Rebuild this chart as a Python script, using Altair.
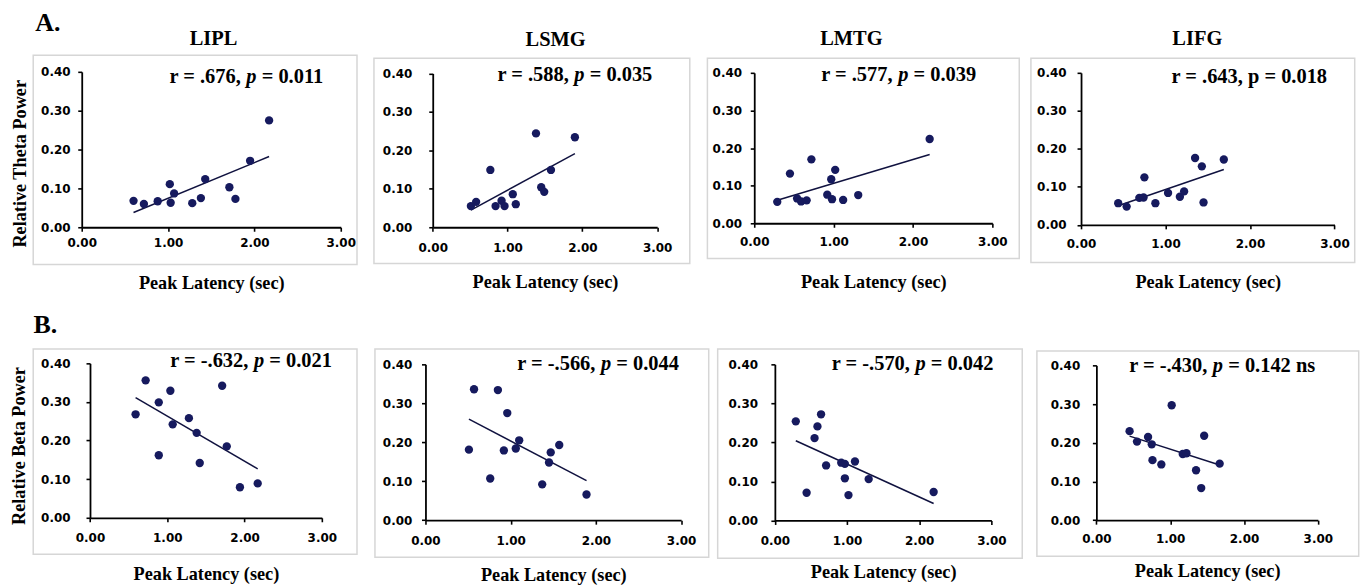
import altair as alt
import pandas as pd

# ---------------- data ----------------
region_titles = ["LIPL", "LSMG", "LMTG", "LIFG"]

# Row A: relative theta power vs peak latency
lipl_theta_lat = [0.60, 0.72, 0.88, 1.02, 1.03, 1.07, 1.28, 1.38, 1.43, 1.71, 1.78, 1.95, 2.17]
lipl_theta_pow = [0.068, 0.060, 0.067, 0.111, 0.063, 0.087, 0.062, 0.075, 0.124, 0.103, 0.073, 0.171, 0.275]
lsmg_theta_lat = [0.51, 0.58, 0.77, 0.84, 0.92, 0.96, 1.07, 1.11, 1.38, 1.45, 1.49, 1.58, 1.90]
lsmg_theta_pow = [0.055, 0.066, 0.149, 0.055, 0.069, 0.055, 0.086, 0.060, 0.244, 0.104, 0.092, 0.149, 0.234]
lmtg_theta_lat = [0.29, 0.45, 0.54, 0.59, 0.66, 0.72, 0.92, 0.97, 0.98, 1.02, 1.12, 1.31, 2.21]
lmtg_theta_pow = [0.057, 0.132, 0.066, 0.058, 0.061, 0.170, 0.076, 0.117, 0.064, 0.142, 0.062, 0.075, 0.224]
lifg_theta_lat = [0.44, 0.54, 0.69, 0.74, 0.75, 0.88, 1.03, 1.17, 1.22, 1.35, 1.43, 1.45, 1.69]
lifg_theta_pow = [0.057, 0.048, 0.071, 0.072, 0.125, 0.057, 0.084, 0.074, 0.088, 0.176, 0.154, 0.059, 0.172]

# Row B: relative beta power vs peak latency
lipl_beta_lat = [0.59, 0.72, 0.89, 0.89, 1.04, 1.07, 1.28, 1.38, 1.42, 1.71, 1.77, 1.94, 2.17]
lipl_beta_pow = [0.268, 0.356, 0.299, 0.162, 0.329, 0.242, 0.258, 0.220, 0.142, 0.342, 0.185, 0.079, 0.089]
lsmg_beta_lat = [0.51, 0.57, 0.76, 0.85, 0.92, 0.96, 1.06, 1.10, 1.37, 1.45, 1.47, 1.57, 1.89]
lsmg_beta_pow = [0.181, 0.336, 0.107, 0.334, 0.179, 0.275, 0.184, 0.205, 0.092, 0.148, 0.174, 0.193, 0.066]
lmtg_beta_lat = [0.29, 0.44, 0.55, 0.59, 0.64, 0.71, 0.92, 0.97, 0.97, 1.02, 1.11, 1.30, 2.20]
lmtg_beta_pow = [0.254, 0.071, 0.211, 0.241, 0.272, 0.141, 0.148, 0.145, 0.108, 0.065, 0.151, 0.106, 0.073]
lifg_beta_lat = [0.45, 0.55, 0.70, 0.75, 0.76, 0.88, 1.02, 1.17, 1.22, 1.35, 1.42, 1.46, 1.67]
lifg_beta_pow = [0.230, 0.203, 0.215, 0.196, 0.155, 0.144, 0.297, 0.171, 0.173, 0.129, 0.083, 0.218, 0.146]

# annotation texts: (before p, p, after p, p italic?)
stats_theta = [("r = .676,", "p", "= 0.011", True),
               ("r = .588,", "p", "= 0.035", True),
               ("r = .577,", "p", "= 0.039", True),
               ("r = .643, p = 0.018", "", "", False)]
stats_beta = [("r = -.632,", "p", "= 0.021", True),
              ("r = -.566,", "p", "= 0.044", True),
              ("r = -.570,", "p", "= 0.042", True),
              ("r = -.430,", "p", "= 0.142 ns", True)]

x_ticks = [0, 1, 2, 3]
y_ticks = [0, 0.1, 0.2, 0.3, 0.4]
x_title = "Peak Latency (sec)"
y_title_theta = "Relative Theta Power"
y_title_beta = "Relative Beta  Power"

# ---------------- styling ----------------
NAVY = "#161a5e"
LINE = "#10123f"
BOX = "#d6d6d6"
SERIF = "Liberation Serif"
SANS = "DejaVu Sans"
ANN = 20.5
TITLE = 18.3
ONE = pd.DataFrame({"k": [0]})

# Times-Bold advance widths (em) for positioning mixed-style annotation pieces
W_EM = {" ": 0.25, "r": 0.444, "=": 0.570, ".": 0.25, ",": 0.25, "-": 0.333,
        "p": 0.556, "n": 0.556, "s": 0.389}


def tw(s, size):
    return sum(W_EM.get(c, 0.5) for c in s) * size


# ---------------- layout (page pixels) ----------------
COLS = [81.7, 426.7, 756.0, 1083.3]
COLW = [253.0, 237.3, 235.3, 255.0]
ROWS = [70.7, 363.3]
ROWH = [156.0, 157.7]
SPACE_COL = 92
SPACE_ROW = 136.6

LAY_A = [
    dict(px=(81.7, 341.7), py=(70.7, 226.7), box=(33, 358, 54, 264), ann=(247.5, 81.7),
         title=(214, 43.3), xt=288.3, ylp=7.7, xlp=6.5),
    dict(px=(434, 659.3), py=(72.3, 226.7), box=(375, 692, 57, 263), ann=(576.7, 80),
         title=(557.3, 44.3), xt=287.3, ylp=17, xlp=11),
    dict(px=(756, 995), py=(71.7, 222.7), box=(709, 1022, 57, 258), ann=(901, 80),
         title=(853.5, 44), xt=286.7, ylp=8.7, xlp=9.3),
    dict(px=(1083.3, 1337.7), py=(71.7, 224.3), box=(1033, 1358, 57, 262), ann=(1252.2, 81.7),
         title=(1200, 44), xt=287.3, ylp=11, xlp=9.4),
]
LAY_B = [
    dict(px=(90, 322.7), py=(363.3, 518.3), box=(33, 358, 349, 555), ann=(251.7, 366.7),
         xt=580, ylp=16, xlp=10.4),
    dict(px=(426.7, 683.3), py=(364.3, 520.7), box=(376, 711, 349, 558), ann=(600, 370),
         xt=581, ylp=9.7, xlp=11.3),
    dict(px=(776.7, 994), py=(364.3, 521), box=(719.3, 1025, 349, 559), ann=(915, 370),
         xt=578.5, ylp=13.4, xlp=11),
    dict(px=(1098.7, 1321), py=(365.3, 520.7), box=(1039, 1362, 351, 557), ann=(1225, 371.7),
         xt=577, ylp=12.7, xlp=9.7),
]
YTITLE_A = (20, 162.5)
YTITLE_B = (19, 445.8)
LETTER_A = (35, 30)
LETTER_B = (33.3, 333.3)


def text_layer(s, x, y, size, italic=False, align="left"):
    props = dict(text=s, align=align, baseline="alphabetic", font=SERIF,
                 fontWeight="bold", fontSize=size, color="black")
    if italic:
        props["fontStyle"] = "italic"
    return alt.Chart(ONE).mark_text(**props).encode(x=alt.value(x), y=alt.value(y))


def panel(lat, pw_, L, r, c, stat, ytitle=None, ypos=None, ptitle=None, letter=None, anchor=False):
    cx, cy, W, H = COLS[c], ROWS[r], COLW[c], ROWH[r]
    xl = L["px"][0] - cx
    pw = L["px"][1] - L["px"][0]
    yt = L["py"][0] - cy
    yb = L["py"][1] - cy
    xoff = -(H - yb)
    yoff = -xl

    df = pd.DataFrame({"lat": lat, "pow": pw_})
    xsc = alt.Scale(domain=[0, 3], range=[xl, xl + pw], nice=False, zero=False)
    ysc = alt.Scale(domain=[0, 0.4], range=[yb, yt], nice=False, zero=False)
    xax = alt.Axis(values=x_ticks, format=".2f", offset=xoff, labelPadding=L["xlp"],
                   titleY=L["xt"] - L["py"][1], titleBaseline="alphabetic", labelFlush=False,
                   labelOverlap=False)
    ykw = dict(values=y_ticks, format=".2f", offset=yoff, labelPadding=L["ylp"],
               labelFlush=False, labelOverlap=False)
    if ytitle:
        ykw.update(titleX=ypos[0] - L["px"][0], titleY=ypos[1] - cy, titleAngle=-90,
                   titleBaseline="middle", titleAlign="center")
        Y = alt.Y("pow:Q", scale=ysc, axis=alt.Axis(**ykw), title=ytitle)
    else:
        Y = alt.Y("pow:Q", scale=ysc, axis=alt.Axis(**ykw), title=None)
    X = alt.X("lat:Q", scale=xsc, axis=xax, title=x_title)

    base = alt.Chart(df)
    pts = base.mark_circle(size=70, color=NAVY, opacity=1).encode(x=X, y=Y)
    fit = base.transform_regression("lat", "pow").mark_line(
        color=LINE, strokeWidth=1.5).encode(x=X, y=Y)

    bx0, bx1, by0, by1 = L["box"]
    box = alt.Chart(ONE).mark_rect(fillOpacity=0, stroke=BOX, strokeWidth=1.5).encode(
        x=alt.value(bx0 - cx), x2=alt.value(bx1 - cx),
        y=alt.value(by0 - cy), y2=alt.value(by1 - cy))

    layers = [box, fit, pts]

    if anchor:
        # invisible marker at the page's top-left content corner (fixes overall placement)
        layers.append(alt.Chart(ONE).mark_rect(opacity=0).encode(
            x=alt.value(8 - cx), x2=alt.value(9 - cx), y=alt.value(8 - cy), y2=alt.value(9 - cy)))

    a, p, b, ital = stat
    ax, ay = L["ann"][0] - cx, L["ann"][1] - cy
    if p:
        total = tw(a + " ", ANN) + tw(p, ANN) * 0.9 + tw(" " + b, ANN)
        x0 = ax - total / 2
        layers.append(text_layer(a, x0, ay, ANN))
        xp = x0 + tw(a + " ", ANN)
        layers.append(text_layer(p, xp, ay, ANN, italic=ital))
        xb = xp + tw(p, ANN) * 0.9 + tw(" ", ANN)
        layers.append(text_layer(b, xb, ay, ANN))
    else:
        layers.append(text_layer(a, ax, ay, ANN, align="center"))

    if ptitle:
        layers.append(text_layer(ptitle, L["title"][0] - cx, L["title"][1] - cy, 20.5,
                                 align="center"))
    if letter:
        layers.append(text_layer(letter[0], letter[1] - cx, letter[2] - cy, 26))

    return alt.layer(*layers).properties(width=W, height=H)


theta_sets = [(lipl_theta_lat, lipl_theta_pow), (lsmg_theta_lat, lsmg_theta_pow),
              (lmtg_theta_lat, lmtg_theta_pow), (lifg_theta_lat, lifg_theta_pow)]
beta_sets = [(lipl_beta_lat, lipl_beta_pow), (lsmg_beta_lat, lsmg_beta_pow),
             (lmtg_beta_lat, lmtg_beta_pow), (lifg_beta_lat, lifg_beta_pow)]

panels = []
for i, (lat, pw_) in enumerate(theta_sets):
    kw = dict(ptitle=region_titles[i])
    if i == 0:
        kw.update(ytitle=y_title_theta, ypos=YTITLE_A, letter=("A.",) + LETTER_A, anchor=True)
    panels.append(panel(lat, pw_, LAY_A[i], 0, i, stats_theta[i], **kw))
for i, (lat, pw_) in enumerate(beta_sets):
    kw = {}
    if i == 0:
        kw.update(ytitle=y_title_beta, ypos=YTITLE_B, letter=("B.",) + LETTER_B)
    panels.append(panel(lat, pw_, LAY_B[i], 1, i, stats_beta[i], **kw))

chart = alt.concat(
    *panels, columns=4, spacing={"row": SPACE_ROW, "column": SPACE_COL},
    bounds="flush", align="each"
).properties(
    padding={"left": 0, "top": 0, "right": 0, "bottom": 0},
    background="white"
).configure_axis(
    domainColor="black", domainWidth=1.8, tickColor="black", tickWidth=1.6, tickSize=4,
    grid=False, labelFont=SANS, labelFontWeight="bold", labelFontSize=12, labelColor="black",
    titleFont=SERIF, titleFontWeight="bold", titleFontSize=TITLE, titleColor="black"
).configure_view(strokeWidth=0)

chart.save("out.html", embed_options={"renderer": "svg", "actions": False})
